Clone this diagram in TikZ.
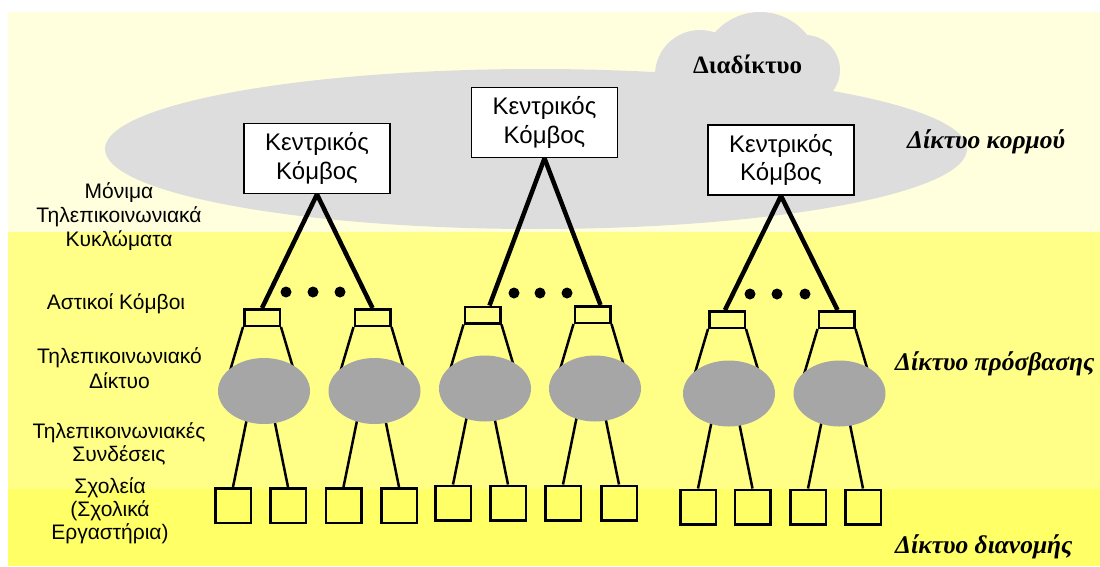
\documentclass[tikz,border=0pt]{standalone}
\usepackage{fontspec}
\setmainfont{Liberation Serif}
\newfontfamily\arialf{Liberation Sans}
\usetikzlibrary{shapes.geometric,calc}
\definecolor{bandtop}{RGB}{255,255,221}
\definecolor{bandmid}{RGB}{255,255,136}
\definecolor{bandbot}{RGB}{255,255,102}
\definecolor{coregray}{RGB}{221,221,221}
\definecolor{netgray}{RGB}{166,166,166}
\begin{document}
\begin{tikzpicture}[x=1pt,y=-1pt,
  corebox/.style={draw,line width=1.8pt,fill=white,minimum width=146pt,minimum height=70pt,inner sep=0pt,align=center,font=\arialf\fontsize{24}{28.5}\selectfont},
  citybox/.style={draw,line width=2.5pt,minimum width=35.5pt,minimum height=16.5pt,inner sep=0pt},
  school/.style={draw,line width=2.5pt,minimum width=35.5pt,minimum height=34.5pt,inner sep=0pt},
  net/.style={ellipse,fill=netgray,minimum width=92pt,minimum height=66pt,inner sep=0pt},
  trunk/.style={line width=4.5pt},
  link/.style={line width=2.5pt},
  sidelabel/.style={font=\arialf\fontsize{21}{24}\selectfont,align=center,anchor=base,inner sep=0pt},
  layerlabel/.style={font=\bfseries\itshape\fontsize{25.5}{28}\selectfont,anchor=base west,inner sep=0pt}]
\useasboundingbox (0,0) rectangle (1100,566);
% bands and backbone cloud
\fill[white] (0,0) rectangle (1100,566);
\fill[bandtop] (8,12) rectangle (1100,232);
\fill[coregray] (536,149) ellipse [x radius=431, y radius=80];
\fill[coregray] (700,75) circle [radius=45] (760,72) circle [radius=60] (805,70) circle [radius=35];
\fill[bandmid] (8,232) rectangle (1100,489);
\fill[bandbot] (8,489) rectangle (1100,566);
% central nodes
\node[corebox] (r1) at (317,158.5) {Κεντρικός\\Κόμβος};
\node[corebox] (r2) at (544.5,122.5) {Κεντρικός\\Κόμβος};
\node[corebox] (r3) at (781,160) {Κεντρικός\\Κόμβος};
% city nodes
\node[citybox] (c1) at (262,317.5) {};
\node[citybox] (c2) at (372.5,317.5) {};
\node[citybox] (c3) at (482.5,315) {};
\node[citybox] (c4) at (592.5,314.5) {};
\node[citybox] (c5) at (727,319.5) {};
\node[citybox] (c6) at (836.5,319.5) {};
% schools
\node[school] (s1) at (233,505.5) {};
\node[school] (s2) at (288,505.5) {};
\node[school] (s3) at (343.5,505.5) {};
\node[school] (s4) at (399,505.5) {};
\node[school] (s5) at (453,503) {};
\node[school] (s6) at (508,503) {};
\node[school] (s7) at (563,503) {};
\node[school] (s8) at (619,503) {};
\node[school] (s9) at (698,507) {};
\node[school] (s10) at (752.5,507) {};
\node[school] (s11) at (808,507) {};
\node[school] (s12) at (863,507) {};
% permanent circuits
\draw[trunk] (r1.south) -- (c1.north);
\draw[trunk] (r1.south) -- (c2.north);
\draw[trunk] (r2.south) -- ([xshift=7pt]c3.north);
\draw[trunk] (r2.south) -- ([xshift=8pt]c4.north);
\draw[trunk] (r3.south) -- ([xshift=-2pt]c5.north);
\draw[trunk] (r3.south) -- ([xshift=1pt]c6.north);
% dots
\fill (286,292) circle [radius=5.5] (313,292) circle [radius=5.5] (340,292) circle [radius=5.5];
\fill (514,293) circle [radius=5.5] (540,293) circle [radius=5.5] (567,293) circle [radius=5.5];
\fill (750,294) circle [radius=5.5] (777,294) circle [radius=5.5] (805,294) circle [radius=5.5];
% links city -> network
\foreach \c in {c1,c2,c3,c4,c5,c6}{
  \draw[link] (\c.south west) -- ++(-16,54);
  \draw[link] (\c.south east) -- ++(16,54);
}
% links network -> schools
\foreach \s in {s1,s3,s5,s7,s9,s11}{
  \draw[link] ($(\s.north)+(17.5,-86)$) -- (\s.north);
}
\foreach \s in {s2,s4,s6,s8,s10,s12}{
  \draw[link] ($(\s.north)+(-17.5,-86)$) -- (\s.north);
}
% access networks
\node[net] (e1) at (264,391) {};
\node[net] (e2) at (374.5,391) {};
\node[net] (e3) at (485,388.5) {};
\node[net] (e4) at (595,388.5) {};
\node[net] (e5) at (729,393.5) {};
\node[net] (e6) at (839.5,393.5) {};
% labels
\node[sidelabel] (lblcirc) at (119,246) {Μόνιμα\\Τηλεπικοινωνιακά\\Κυκλώματα};
\node[sidelabel] (lblcity) at (116,309) {Αστικοί Κόμβοι};
\node[sidelabel,font=\arialf\fontsize{21}{25}\selectfont] (lblnet) at (119.5,388) {Τηλεπικοινωνιακό\\Δίκτυο};
\node[sidelabel,font=\arialf\fontsize{21}{23}\selectfont] (lbllink) at (119,461) {Τηλεπικοινωνιακές\\Συνδέσεις};
\node[sidelabel,font=\arialf\fontsize{21}{23}\selectfont] (lblschool) at (110,539) {Σχολεία\\(Σχολικά\\Εργαστήρια)};
\node[font=\bfseries\fontsize{25}{28}\selectfont,anchor=base west,inner sep=0pt] (lblinet) at (693,73) {Διαδίκτυο};
\node[layerlabel] (lblcore) at (907,148) {Δίκτυο κορμού};
\node[layerlabel] (lblacc) at (895,370) {Δίκτυο πρόσβασης};
\node[layerlabel] (lbldist) at (895,553) {Δίκτυο διανομής};
\end{tikzpicture}
\end{document}
